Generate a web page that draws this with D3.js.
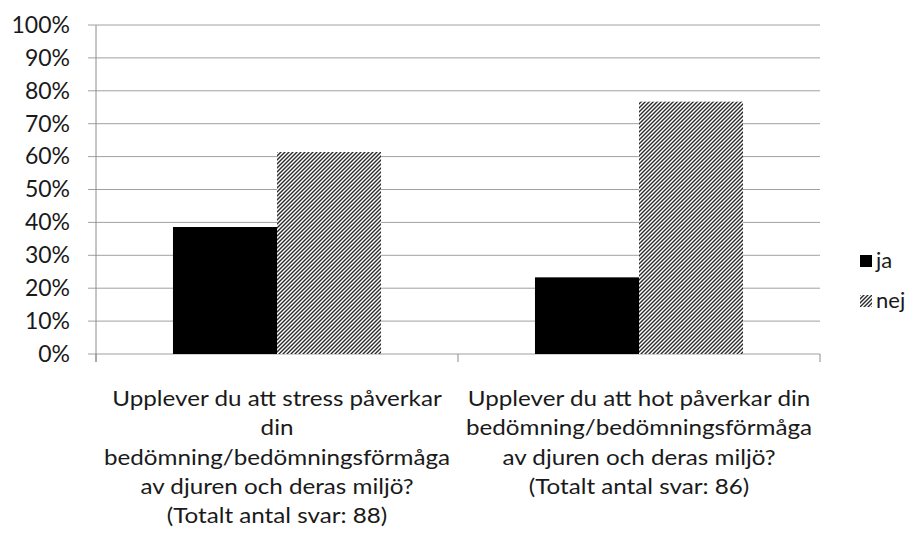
<!DOCTYPE html>
<html>
<head>
<meta charset="utf-8">
<script src="https://cdn.jsdelivr.net/npm/d3@7"></script>
<style>
body { margin: 0; background: #fff; }
text { font-family: Lato, "Open Sans", sans-serif; fill: #1a1a1a; }
</style>
</head>
<body>
<script>
// question labels, one line per entry
var categories = [
	["Upplever du att stress påverkar", "din", "bedömning/bedömningsförmåga", "av djuren och deras miljö?", "(Totalt antal svar: 88)"],
	["Upplever du att hot påverkar din", "bedömning/bedömningsförmåga", "av djuren och deras miljö?", "(Totalt antal svar: 86)"]
];
var series = ["ja", "nej"];
var ja = [0.386, 0.233];
var nej = [0.614, 0.767];
var ticks = [0, 0.1, 0.2, 0.3, 0.4, 0.5, 0.6, 0.7, 0.8, 0.9, 1];

var width = 919, height = 538;
var margin = {top: 25, right: 99, bottom: 184, left: 96};
var w = width - margin.left - margin.right;
var h = height - margin.top - margin.bottom;

var svg = d3.select("body").append("svg")
	.attr("width", width)
	.attr("height", height);

var defs = svg.append("defs");
var pat = defs.append("pattern")
	.attr("id", "hatch")
	.attr("patternUnits", "userSpaceOnUse")
	.attr("width", 4)
	.attr("height", 4);
pat.append("rect").attr("width", 4).attr("height", 4).attr("fill", "#fff");
pat.append("path")
	.attr("d", "M-1,1 l2,-2 M0,4 l4,-4 M3,5 l2,-2")
	.attr("stroke", "#2a2a2a")
	.attr("stroke-width", 1.4);

var g = svg.append("g")
	.attr("transform", "translate(" + margin.left + "," + margin.top + ")");

var x0 = d3.scaleBand()
	.domain(d3.range(categories.length))
	.range([0, w]);
var x1 = d3.scaleBand()
	.domain(series)
	.range([0, x0.bandwidth()])
	.paddingInner(0)
	.paddingOuter(0.74);
var y = d3.scaleLinear().domain([0, 1]).range([h, 0]);

// gridlines
g.selectAll(".grid")
	.data(ticks)
	.enter().append("line")
	.attr("x1", -8)
	.attr("x2", w)
	.attr("y1", function(d) { return y(d); })
	.attr("y2", function(d) { return y(d); })
	.attr("stroke", "#a0a0a0")
	.attr("stroke-width", 1);

var yAxis = g.append("g")
	.call(d3.axisLeft(y).tickValues(ticks).tickFormat(d3.format(".0%")).tickSize(0).tickPadding(26));
yAxis.select(".domain").remove();
yAxis.selectAll("text")
	.style("font-size", "23px")
	.attr("fill", "#1a1a1a");

// axis line and category ticks
g.append("line")
	.attr("x1", 0).attr("x2", 0)
	.attr("y1", 0).attr("y2", h + 8)
	.attr("stroke", "#8c8c8c");
g.selectAll(".ctick")
	.data(d3.range(categories.length + 1))
	.enter().append("line")
	.attr("x1", function(d) { return d * x0.step(); })
	.attr("x2", function(d) { return d * x0.step(); })
	.attr("y1", h)
	.attr("y2", h + 8)
	.attr("stroke", "#8c8c8c");

var fills = {ja: "#000", nej: "url(#hatch)"};
var vals = {ja: ja, nej: nej};

var groups = g.selectAll(".grp")
	.data(categories)
	.enter().append("g")
	.attr("transform", function(d, i) { return "translate(" + x0(i) + ",0)"; });

groups.selectAll("rect")
	.data(function(d, i) { return series.map(function(s) { return {s: s, v: vals[s][i]}; }); })
	.enter().append("rect")
	.attr("x", function(d) { return x1(d.s); })
	.attr("width", x1.bandwidth())
	.attr("y", function(d) { return y(d.v); })
	.attr("height", function(d) { return h - y(d.v); })
	.attr("fill", function(d) { return fills[d.s]; });

// category labels (the reference text is a bit wide, so stretch it)
groups.append("text")
	.attr("text-anchor", "middle")
	.attr("transform", "translate(" + (x0.bandwidth() / 2) + ",0) scale(1.1,1)")
	.style("font-size", "22px")
	.selectAll("tspan")
	.data(function(d) { return d; })
	.enter().append("tspan")
	.attr("x", 0)
	.attr("y", function(d, i) { return h + 52 + i * 29.3; })
	.text(function(d) { return d; });

// legend
var leg = svg.selectAll(".leg")
	.data(series)
	.enter().append("g")
	.attr("transform", function(d, i) { return "translate(860," + (255 + i * 40) + ")"; });
leg.append("rect")
	.attr("width", 12)
	.attr("height", 12)
	.attr("fill", function(d) { return fills[d]; });
leg.append("text")
	.attr("x", 16)
	.attr("y", 13)
	.style("font-size", "22px")
	.text(function(d) { return d; });
</script>
</body>
</html>
